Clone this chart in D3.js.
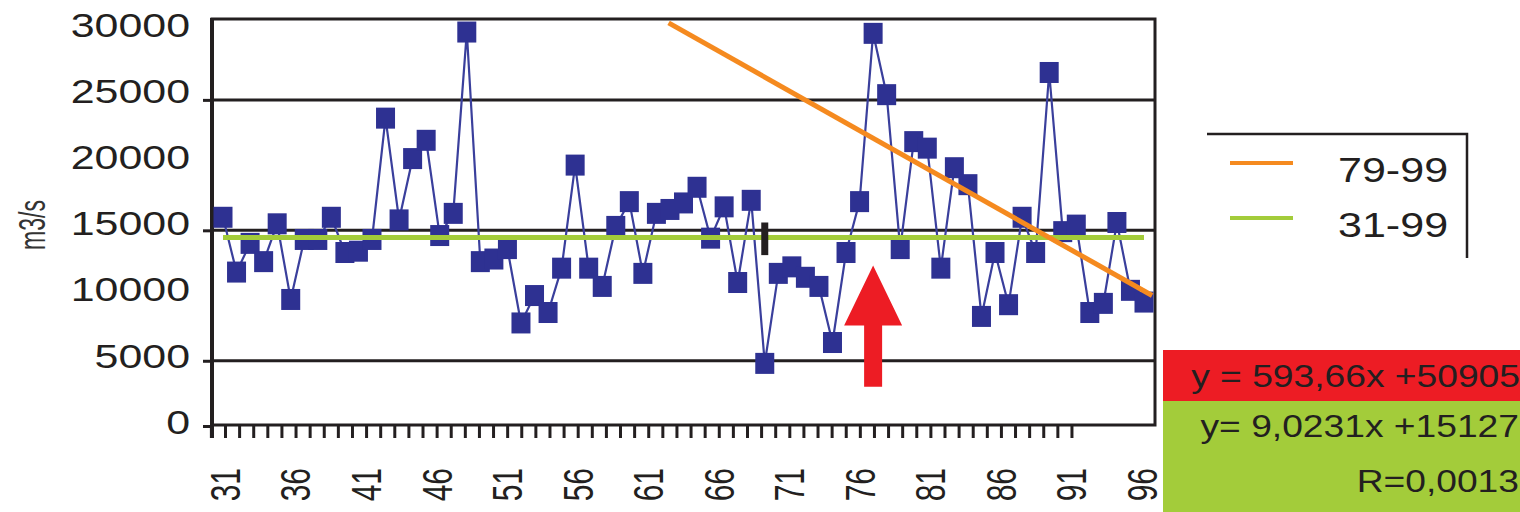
<!DOCTYPE html>
<html>
<head>
    <meta charset="utf-8" />
    <title>Discharge 31-99</title>
    <style>
        body { margin: 0; background: #fff; }
        #flow_chart { width: 1520px; height: 512px; }
        text { font-family: "Liberation Sans", Arial, sans-serif; fill: #231f20; }
    </style>
</head>
<body>
    <div id="flow_chart"></div>
    <script src="https://cdnjs.cloudflare.com/ajax/libs/d3/7.8.5/d3.min.js"></script>
    <script>
        // data
        var years = d3.range(31, 100)
        var flows = [16000, 11800, 14000, 12600, 15500, 9700, 14300, 14300, 16000, 13300,
                     13400, 14300, 23600, 15800, 20500, 21900, 14600, 16300, 30200, 12600,
                     12800, 13600, 7900, 10000, 8700, 12100, 20000, 12100, 10700, 15300,
                     17200, 11700, 16300, 16600, 17100, 18300, 14400, 16800, 11000, 17300,
                     4800, 11700, 12200, 11400, 10700, 6400, 13300, 17200, 30100, 25400,
                     13600, 21800, 21300, 12100, 19800, 18500, 8400, 13300, 9300, 16000,
                     13300, 27100, 14900, 15400, 8700, 9400, 15600, 10400, 9500]
        var trendAll = [{ year: 31, value: 14450 }, { year: 99, value: 14450 }]     // 31-99
        var trendLate = [{ year: 63.9, value: 30900 }, { year: 99.6, value: 10000 }] // 79-99
        var marker = { year: 71, from: 13100, to: 15600 }
        var arrow = { year: 79, tip: 12300, base: 7700, bottom: 3000 }
        var gridValues = [5000, 15000, 25000]
        var yLabels = [0, 5000, 10000, 15000, 20000, 25000, 30000]
        var xLabels = d3.range(31, 97, 5)
        var xMinorTicks = d3.range(30, 92)
        var legendItems = [{ label: "79-99", color: "#f58a1f" }, { label: "31-99", color: "#a3cc3a" }]
        var equations = ["y = 593,66x +50905", "y= 9,0231x +15127", "R=0,0013"]

        drawChart()

        function drawChart() {
            var width = 1520, height = 512
            var plotLeft = 212, plotRight = 1155, plotTop = 19, plotBottom = 426

            var svg = d3.select("#flow_chart").append("svg")
                .attr("width", width)
                .attr("height", height)

            var x = d3.scaleLinear().domain([31, 99]).range([223, 1144])
            var y = d3.scaleLinear().domain([0, 31200]).range([plotBottom, plotTop])
            // the printed labels sit on their own, slightly different spacing
            var xLab = d3.scaleLinear().domain([31, 96]).range([225, 1142])
            var yLab = d3.scaleLinear().domain([0, 30000]).range([421.5, 25])

            // grid lines (they run out past the axis as ticks)
            svg.append("g")
                .attr("transform", "translate(" + plotLeft + ",0)")
                .call(d3.axisLeft(y).tickValues(gridValues.concat([0])).tickSize(9).tickFormat(""))
                .call(function (g) { g.select(".domain").remove() })
                .selectAll("line").attr("stroke", "#231f20").attr("stroke-width", 3)
            svg.append("g").selectAll("line")
                .data(gridValues).enter().append("line")
                .attr("x1", plotLeft).attr("x2", plotRight)
                .attr("y1", function (d) { return y(d) }).attr("y2", function (d) { return y(d) })
                .attr("stroke", "#231f20").attr("stroke-width", 3)

            // frame
            svg.append("rect")
                .attr("x", plotLeft).attr("y", plotTop)
                .attr("width", plotRight - plotLeft).attr("height", plotBottom - 1 - plotTop)
                .attr("fill", "none").attr("stroke", "#231f20").attr("stroke-width", 3)
            svg.append("line")
                .attr("x1", plotLeft).attr("x2", plotLeft).attr("y1", plotTop - 1).attr("y2", plotBottom + 12)
                .attr("stroke", "#231f20").attr("stroke-width", 4)

            // y labels
            svg.append("g")
                .attr("transform", "translate(" + plotLeft + ",0)")
                .call(d3.axisLeft(yLab).tickValues(yLabels).tickSize(0).tickFormat(d3.format("d")))
                .call(function (g) { g.select(".domain").remove() })
                .selectAll("text")
                .attr("x", 0).attr("dy", null)
                .attr("text-anchor", "end")
                .attr("dominant-baseline", "central")
                .attr("transform", "translate(-22,0) scale(1.3,1)")
                .style("font-size", "33px")
                .style("font-family", "'Liberation Sans', Arial, sans-serif")
                .attr("fill", "#231f20")

            svg.append("text")
                .attr("transform", "translate(32,225) scale(1.6,1) rotate(-90)")
                .attr("text-anchor", "middle")
                .attr("dominant-baseline", "central")
                .style("font-size", "23px")
                .style("fill", "#333")
                .text("m3/s")

            // x minor ticks
            svg.append("g")
                .attr("transform", "translate(0," + (plotBottom - 1) + ")")
                .call(d3.axisBottom(xLab).tickValues(xMinorTicks).tickSize(13).tickFormat(""))
                .call(function (g) { g.select(".domain").remove() })
                .selectAll("line").attr("stroke", "#231f20").attr("stroke-width", 3)

            // x labels
            svg.append("g")
                .attr("transform", "translate(0," + (plotBottom - 1) + ")")
                .call(d3.axisBottom(xLab).tickValues(xLabels).tickSize(0))
                .call(function (g) { g.select(".domain").remove() })
                .selectAll("text")
                .attr("x", 0).attr("y", 0).attr("dy", null)
                .attr("text-anchor", "end")
                .attr("dominant-baseline", "central")
                .attr("transform", "translate(0,43) scale(1.4,1) rotate(-90)")
                .style("font-size", "30px")
                .style("font-family", "'Liberation Sans', Arial, sans-serif")
                .attr("fill", "#231f20")

            // series
            var series = years.map(function (yr, i) { return { year: yr, value: flows[i] } })
            var line = d3.line()
                .x(function (d) { return x(d.year) })
                .y(function (d) { return y(d.value) })

            svg.append("path")
                .datum(series)
                .attr("d", line)
                .attr("fill", "none")
                .attr("stroke", "#3a3f9c")
                .attr("stroke-width", 2.2)

            svg.append("g").selectAll("rect")
                .data(series).enter().append("rect")
                .attr("x", function (d) { return x(d.year) - 9.5 })
                .attr("y", function (d) { return y(d.value) - 10.5 })
                .attr("width", 19).attr("height", 21)
                .attr("fill", "#2e3192")

            // trend lines
            svg.append("path")
                .datum(trendAll)
                .attr("d", line)
                .attr("fill", "none")
                .attr("stroke", "#a3cc3a").attr("stroke-width", 5)

            svg.append("path")
                .datum(trendLate)
                .attr("d", line)
                .attr("fill", "none")
                .attr("stroke", "#f58a1f").attr("stroke-width", 5)

            // break marker
            svg.append("rect")
                .attr("x", x(marker.year) - 3.5)
                .attr("y", y(marker.to))
                .attr("width", 7)
                .attr("height", y(marker.from) - y(marker.to))
                .attr("fill", "#231f20")

            // red arrow
            var ax = x(arrow.year)
            var arrowPts = [
                [ax, y(arrow.tip)],
                [ax + 29, y(arrow.base)],
                [ax + 9, y(arrow.base)],
                [ax + 9, y(arrow.bottom)],
                [ax - 9, y(arrow.bottom)],
                [ax - 9, y(arrow.base)],
                [ax - 29, y(arrow.base)]
            ]
            svg.append("path")
                .attr("d", d3.line()(arrowPts) + "Z")
                .attr("fill", "#ed1c24")

            // legend
            var legend = svg.append("g")
            legend.append("path")
                .attr("d", "M1207,134H1467V258")
                .attr("fill", "none").attr("stroke", "#231f20").attr("stroke-width", 2.5)
            var item = legend.selectAll("g.item")
                .data(legendItems).enter().append("g")
                .attr("class", "item")
                .attr("transform", function (d, i) { return "translate(0," + (i * 55) + ")" })
            item.append("line")
                .attr("x1", 1230).attr("x2", 1293).attr("y1", 163).attr("y2", 163)
                .attr("stroke", function (d) { return d.color }).attr("stroke-width", 4)
            item.append("text")
                .attr("transform", "translate(1338,182) scale(1.23,1)")
                .style("font-size", "35px")
                .text(function (d) { return d.label })

            // equation boxes
            svg.append("rect").attr("x", 1163).attr("y", 350).attr("width", 357).attr("height", 51).attr("fill", "#ed1c24")
            svg.append("rect").attr("x", 1163).attr("y", 401).attr("width", 357).attr("height", 111).attr("fill", "#a3cc3a")
            var eqY = [387, 437, 492]
            var eqX = [1520, 1519, 1519]
            svg.append("g").selectAll("text")
                .data(equations).enter().append("text")
                .attr("transform", function (d, i) { return "translate(" + eqX[i] + "," + eqY[i] + ") scale(1.2,1)" })
                .attr("text-anchor", "end")
                .style("font-size", "31px")
                .text(function (d) { return d })
        }
    </script>
</body>
</html>
